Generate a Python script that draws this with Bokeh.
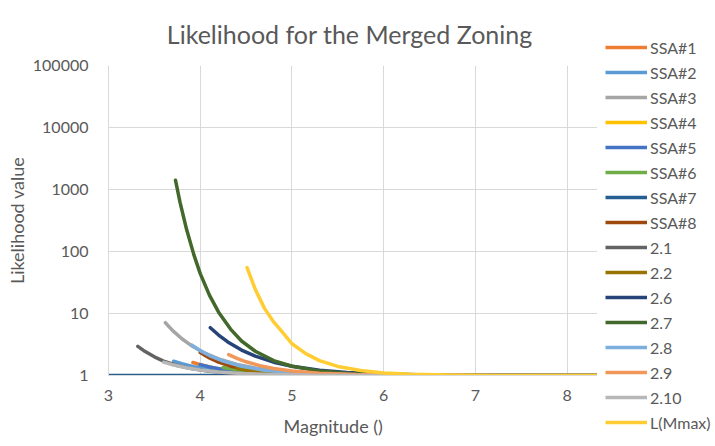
from bokeh.plotting import figure
from bokeh.layouts import row
from bokeh.models import (Range1d, FixedTicker, PrintfTickFormatter, Legend,
                          LegendItem, Title)
from bokeh.embed import file_html
from bokeh.resources import INLINE

# Magnitude values and likelihood values for every series
ssa1_m = [3.92, 4.0, 4.15, 4.35, 4.6, 5.0, 5.5, 6.2, 8.9]
ssa1_l = [1.62, 1.49, 1.32, 1.188, 1.099, 1.037, 1.011, 1.0, 1.0]

ssa2_m = [3.71, 3.8, 3.95, 4.1, 4.3, 4.6, 5.0, 5.6, 6.5, 8.9]
ssa2_l = [1.70, 1.545, 1.367, 1.252, 1.155, 1.078, 1.031, 1.008, 1.0, 1.0]

ssa3_m = [3.62, 3.7, 3.8, 3.9, 4.05, 4.2, 4.4, 4.6, 4.9, 5.2, 5.6, 6.2, 7.0, 8.9]
ssa3_l = [7.1, 5.3, 3.92, 3.06, 2.29, 1.85, 1.51, 1.32, 1.16, 1.086, 1.038, 1.011, 1.0, 1.0]

ssa4_m = [4.6, 4.75, 4.95, 5.2, 5.55, 6.05, 7.0, 8.9]
ssa4_l = [1.25, 1.169, 1.101, 1.054, 1.023, 1.007, 1.0, 1.0]

ssa5_m = [4.0, 4.1, 4.25, 4.45, 4.7, 5.0, 5.5, 6.2, 8.9]
ssa5_l = [1.50, 1.375, 1.249, 1.148, 1.078, 1.037, 1.011, 1.0, 1.0]

ssa6_m = [4.25, 4.4, 4.6, 4.85, 5.2, 5.7, 6.5, 8.9]
ssa6_l = [1.35, 1.232, 1.138, 1.073, 1.031, 1.009, 1.0, 1.0]

ssa7_m = [3.0, 8.9]
ssa7_l = [1.0, 1.0]

ssa8_m = [4.0, 4.1, 4.2, 4.35, 4.5, 4.7, 5.0, 5.4, 6.0, 8.9]
ssa8_l = [2.34, 1.92, 1.64, 1.39, 1.247, 1.137, 1.059, 1.02, 1.003, 1.0]

z21_m = [3.32, 3.4, 3.5, 3.6, 3.75, 3.9, 4.1, 4.4, 4.8, 5.3, 6.0, 8.9]
z21_l = [2.95, 2.43, 2.0, 1.71, 1.45, 1.29, 1.166, 1.075, 1.027, 1.008, 1.0, 1.0]

z22_m = [4.4, 4.55, 4.75, 5.0, 5.35, 5.9, 7.0, 8.9]
z22_l = [1.3, 1.19, 1.105, 1.05, 1.02, 1.005, 1.0, 1.0]

z26_m = [4.11, 4.2, 4.3, 4.45, 4.6, 4.8, 5.0, 5.3, 5.6, 6.0, 6.5, 7.0, 8.9]
z26_l = [5.9, 4.49, 3.48, 2.57, 2.05, 1.64, 1.41, 1.22, 1.12, 1.055, 1.02, 1.01, 1.0]

z27_m = [3.73, 3.78, 3.85, 3.93, 4.0, 4.1, 4.2, 4.33, 4.45, 4.6, 4.8, 5.0,
         5.3, 5.6, 6.0, 6.5, 7.0, 8.0, 8.9]
z27_l = [1413, 620, 230, 89, 44, 19.8, 10.5, 5.6, 3.6, 2.46, 1.74, 1.41,
         1.18, 1.085, 1.032, 1.01, 1.0, 1.0, 1.0]

z28_m = [3.91, 4.0, 4.1, 4.25, 4.45, 4.7, 5.0, 5.4, 6.0, 7.0, 8.9]
z28_l = [3.09, 2.52, 2.10, 1.71, 1.41, 1.219, 1.108, 1.043, 1.011, 1.0, 1.0]

z29_m = [4.31, 4.4, 4.5, 4.65, 4.8, 5.0, 5.3, 5.7, 6.2, 7.0, 8.9]
z29_l = [2.17, 1.887, 1.664, 1.442, 1.301, 1.185, 1.092, 1.037, 1.012, 1.0, 1.0]

z210_m = [3.6, 3.7, 3.85, 4.0, 4.2, 4.45, 4.8, 5.3, 6.0, 8.9]
z210_l = [1.64, 1.49, 1.33, 1.228, 1.141, 1.079, 1.036, 1.012, 1.002, 1.0]

lmax_m = [4.51, 4.6, 4.7, 4.8, 4.9, 5.0, 5.15, 5.3, 5.5, 5.75, 6.0, 6.3, 6.7, 7.2, 8.9]
lmax_l = [55, 24.5, 12.1, 7.3, 4.9, 3.25, 2.25, 1.74, 1.40, 1.20, 1.10, 1.047, 1.017, 1.0, 1.0]

x_ticks = [3, 4, 5, 6, 7, 8]
y_ticks = [1, 10, 100, 1000, 10000, 100000]

series = [
    ("SSA#1", ssa1_m, ssa1_l, "#ED7D31"),
    ("SSA#2", ssa2_m, ssa2_l, "#5B9BD5"),
    ("SSA#3", ssa3_m, ssa3_l, "#A5A5A5"),
    ("SSA#4", ssa4_m, ssa4_l, "#FFC000"),
    ("SSA#5", ssa5_m, ssa5_l, "#4472C4"),
    ("SSA#6", ssa6_m, ssa6_l, "#70AD47"),
    ("SSA#7", ssa7_m, ssa7_l, "#255E91"),
    ("SSA#8", ssa8_m, ssa8_l, "#9E480E"),
    ("2.1", z21_m, z21_l, "#636363"),
    ("2.2", z22_m, z22_l, "#997300"),
    ("2.6", z26_m, z26_l, "#264478"),
    ("2.7", z27_m, z27_l, "#43682B"),
    ("2.8", z28_m, z28_l, "#7CAFDD"),
    ("2.9", z29_m, z29_l, "#F1975A"),
    ("2.10", z210_m, z210_l, "#B7B7B7"),
    ("L(Mmax)", lmax_m, lmax_l, "#FFCD33"),
]

FONT = "Lato"
TEXT_COLOR = "#595959"
GRID_COLOR = "#D9D9D9"
LINE_W = 3.5

# main chart
p = figure(width=597, height=446, y_axis_type="log",
           x_range=Range1d(3, 8.33), y_range=Range1d(1, 100000),
           output_backend="svg", toolbar_location=None,
           min_border_left=108, min_border_right=0,
           min_border_top=65, min_border_bottom=70)
p.outline_line_color = None

for name, m, l, color in series:
    p.line(m, l, line_color=color, line_width=LINE_W, line_cap="round",
           line_join="round")

p.xaxis.ticker = FixedTicker(ticks=x_ticks, minor_ticks=[])
p.yaxis.ticker = FixedTicker(ticks=y_ticks, minor_ticks=[])
p.yaxis.formatter = PrintfTickFormatter(format="%d")
for ax in (p.xaxis[0], p.yaxis[0]):
    ax.major_tick_line_color = None
    ax.minor_tick_line_color = None
    ax.axis_line_color = GRID_COLOR
    ax.major_label_text_font = FONT
    ax.major_label_text_font_size = "16px"
    ax.major_label_text_color = TEXT_COLOR
p.xaxis.major_label_standoff = 8
p.yaxis.major_label_standoff = 14

p.yaxis.axis_label = "Likelihood value"
p.yaxis.axis_label_text_font = FONT
p.yaxis.axis_label_text_font_size = "18px"
p.yaxis.axis_label_text_font_style = "normal"
p.yaxis.axis_label_text_color = TEXT_COLOR
p.yaxis.axis_label_standoff = 2

p.xgrid.grid_line_color = GRID_COLOR
p.ygrid.grid_line_color = GRID_COLOR

p.title.text = "Likelihood  for the Merged Zoning"
p.title.align = "center"
p.title.offset = 5
p.title.vertical_align = "top"
p.title.standoff = 30
p.title.text_font = FONT
p.title.text_font_size = "25px"
p.title.text_font_style = "normal"
p.title.text_color = TEXT_COLOR

p.add_layout(Title(text="Magnitude ()", align="left", offset=175,
                   text_font=FONT, text_font_size="18px",
                   text_font_style="normal", text_color=TEXT_COLOR,
                   standoff=19), "below")

# legend column to the right of the chart
lg = figure(width=118, height=446, x_axis_type=None, y_axis_type=None,
            x_range=Range1d(0, 1), y_range=Range1d(0, 1),
            output_backend="svg", toolbar_location=None,
            min_border_left=0, min_border_right=0,
            min_border_top=65, min_border_bottom=70)
lg.outline_line_color = None

nan = float("nan")
items = []
for name, m, l, color in series:
    key = lg.line([nan], [nan], line_color=color, line_width=LINE_W)
    items.append(LegendItem(label=name, renderers=[key]))

legend = Legend(items=items, location=(8, -57), orientation="vertical",
                glyph_width=42, glyph_height=20, label_height=20,
                label_standoff=3, spacing=5, padding=0, margin=0,
                border_line_alpha=0, background_fill_alpha=0,
                label_text_font=FONT, label_text_font_size="16px",
                label_text_color=TEXT_COLOR)
lg.add_layout(legend, "left")

layout = row(p, lg)
open("out.html", "w").write(file_html(layout, INLINE))
